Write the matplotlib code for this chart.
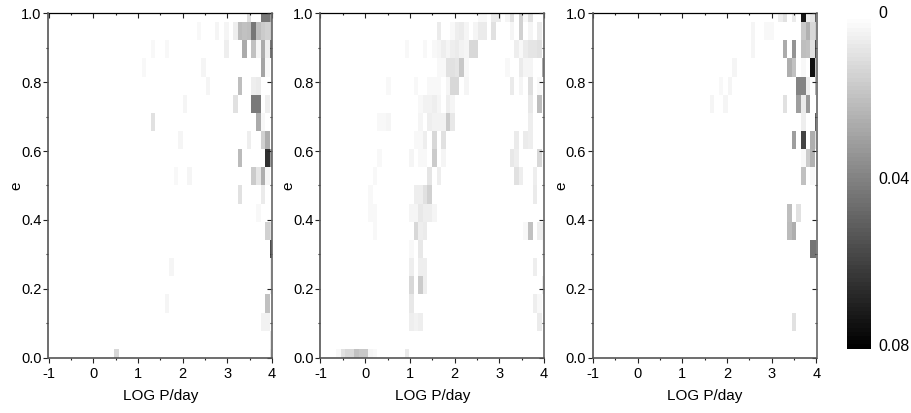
import numpy as np
import matplotlib
matplotlib.use('Agg')
import matplotlib.pyplot as plt
from matplotlib.colors import LinearSegmentedColormap
from matplotlib.ticker import MultipleLocator
from matplotlib.transforms import ScaledTranslation

# grid of the density maps: 20 e bins (top row first), 50 log P bins
n_rows = 20
n_cols = 50

# (e row, log P column, density)
left_cells = [
    (0, 44, .011), (0, 47, .042), (0, 48, .042), (0, 49, .030),
    (1, 33, .002), (1, 37, .003), (1, 39, .003), (1, 41, .005), (1, 42, .022), (1, 43, .019),
    (1, 44, .020), (1, 45, .042), (1, 46, .020), (1, 47, .016), (1, 48, .014), (1, 49, .017),
    (2, 23, .002), (2, 26, .002), (2, 39, .005), (2, 43, .027), (2, 45, .019), (2, 46, .003),
    (2, 47, .027), (2, 48, .005), (2, 49, .042),
    (3, 21, .002), (3, 34, .003), (3, 47, .028), (3, 48, .002),
    (4, 35, .003), (4, 42, .020), (4, 45, .005), (4, 46, .006),
    (5, 30, .003), (5, 41, .009), (5, 45, .041), (5, 46, .041), (5, 48, .005),
    (6, 23, .009), (6, 46, .027), (6, 47, .002),
    (7, 29, .003), (7, 44, .005), (7, 47, .014), (7, 48, .025),
    (8, 42, .022), (8, 48, .064), (8, 49, .030),
    (9, 28, .002), (9, 31, .003), (9, 45, .016), (9, 46, .008), (9, 47, .025), (9, 48, .003),
    (10, 42, .009), (10, 47, .006),
    (11, 46, .002),
    (12, 48, .014), (12, 49, .010),
    (13, 49, .055),
    (14, 27, .003), (14, 49, .005),
    (15, 49, .005),
    (16, 26, .003), (16, 48, .019),
    (17, 47, .004), (17, 48, .004),
    (18, 49, .008),
    (19, 15, .013), (19, 49, .010),
]

middle_cells = [
    (0, 35, .002), (0, 36, .002), (0, 38, .006), (0, 39, .006), (0, 41, .003), (0, 42, .009),
    (0, 44, .014), (0, 45, .002), (0, 46, .009),
    (1, 26, .006), (1, 29, .002), (1, 30, .005), (1, 31, .006), (1, 32, .003), (1, 34, .003),
    (1, 35, .006), (1, 36, .006), (1, 38, .009), (1, 42, .003), (1, 44, .014), (1, 46, .003),
    (1, 48, .006),
    (2, 19, .002), (2, 23, .002), (2, 25, .002), (2, 26, .003), (2, 27, .005), (2, 28, .003),
    (2, 29, .005), (2, 30, .006), (2, 31, .004), (2, 32, .003), (2, 33, .013), (2, 34, .013),
    (2, 43, .005), (2, 44, .002), (2, 45, .006), (2, 46, .008), (2, 47, .008), (2, 48, .009),
    (3, 26, .002), (3, 27, .002), (3, 28, .009), (3, 29, .009), (3, 30, .008), (3, 31, .017),
    (3, 32, .002), (3, 41, .002), (3, 44, .006), (3, 45, .003), (3, 46, .003), (3, 49, .027),
    (4, 15, .002), (4, 21, .002), (4, 24, .002), (4, 25, .002), (4, 26, .002), (4, 28, .003),
    (4, 29, .013), (4, 30, .013), (4, 32, .003), (4, 42, .006), (4, 44, .003), (4, 46, .011),
    (4, 48, .002),
    (5, 22, .002), (5, 23, .004), (5, 24, .004), (5, 25, .005), (5, 26, .003), (5, 28, .005),
    (5, 29, .003), (5, 46, .007), (5, 48, .020),
    (6, 13, .002), (6, 14, .002), (6, 15, .003), (6, 22, .003), (6, 24, .005), (6, 25, .004),
    (6, 26, .004), (6, 27, .004), (6, 28, .016), (6, 29, .007), (6, 46, .005),
    (7, 21, .002), (7, 22, .002), (7, 23, .005), (7, 25, .013), (7, 27, .009), (7, 43, .006),
    (7, 45, .006), (7, 46, .005),
    (8, 13, .002), (8, 20, .003), (8, 22, .002), (8, 23, .002), (8, 25, .016), (8, 27, .003),
    (8, 42, .007), (8, 43, .005), (8, 48, .013),
    (9, 12, .002), (9, 24, .008), (9, 26, .005), (9, 43, .009), (9, 44, .005), (9, 47, .005),
    (10, 11, .002), (10, 21, .005), (10, 22, .005), (10, 23, .009), (10, 24, .014), (10, 47, .006),
    (11, 11, .002), (11, 12, .002), (11, 20, .003), (11, 21, .003), (11, 22, .007), (11, 23, .005),
    (11, 24, .005), (11, 25, .003),
    (12, 12, .002), (12, 21, .013), (12, 22, .005), (12, 23, .006), (12, 45, .002), (12, 46, .019),
    (12, 48, .005), (12, 49, .005),
    (13, 20, .002), (13, 22, .007), (13, 49, .002),
    (14, 20, .005), (14, 22, .005), (14, 23, .005), (14, 47, .005),
    (15, 20, .013), (15, 22, .016), (15, 23, .005), (15, 49, .005),
    (16, 20, .007), (16, 47, .005), (16, 48, .002),
    (17, 20, .005), (17, 21, .004), (17, 22, .005), (17, 48, .006),
    (19, 4, .002), (19, 5, .009), (19, 6, .013), (19, 7, .013), (19, 8, .019), (19, 9, .017),
    (19, 10, .017), (19, 11, .003), (19, 12, .002), (19, 19, .006),
]

right_cells = [
    (0, 41, .005), (0, 42, .009), (0, 44, .006), (0, 46, .072), (0, 47, .005), (0, 48, .008),
    (0, 49, .049),
    (1, 35, .003), (1, 38, .002), (1, 39, .002), (1, 46, .017), (1, 47, .024), (1, 48, .013),
    (1, 49, .017),
    (2, 35, .003), (2, 42, .027), (2, 44, .033), (2, 46, .020), (2, 47, .019), (2, 48, .009),
    (2, 49, .055),
    (3, 31, .003), (3, 43, .025), (3, 44, .019), (3, 46, .002), (3, 48, .074), (3, 49, .020),
    (4, 28, .002), (4, 30, .003), (4, 45, .038), (4, 46, .038), (4, 47, .005), (4, 49, .024),
    (5, 26, .003), (5, 29, .003), (5, 42, .009), (5, 45, .030), (5, 46, .006), (5, 47, .031),
    (6, 46, .005), (6, 49, .049),
    (7, 44, .030), (7, 46, .058), (7, 48, .025), (7, 49, .011),
    (8, 46, .002), (8, 47, .016), (8, 48, .024),
    (9, 46, .019), (9, 48, .002),
    (11, 43, .020), (11, 45, .009),
    (12, 43, .022), (12, 44, .025),
    (13, 48, .044), (13, 49, .044),
    (17, 44, .009),
]

x_ticks = [-1, 0, 1, 2, 3, 4]
y_ticks = [0.0, 0.2, 0.4, 0.6, 0.8, 1.0]
cbar_ticks = [0, 0.04, 0.08]
cbar_labels = ['0', '0.04', '0.08']

plt.rcParams['font.family'] = ['Liberation Sans', 'DejaVu Sans']
plt.rcParams['axes.unicode_minus'] = False

W, H = 912, 413
fig = plt.figure(figsize=(W / 100, H / 100), dpi=100)
cmap = LinearSegmentedColormap.from_list('wb', ['white', 'black'], N=80)


def make_grid(cells):
    grid = np.zeros((n_rows, n_cols))
    for row, col, val in cells:
        grid[row, col] = val
    return grid


def style_ticks(axis, direction):
    axis.set_major_locator(plt.FixedLocator(x_ticks if axis.axis_name == 'x' else y_ticks))
    axis.set_minor_locator(MultipleLocator(0.5 if axis.axis_name == 'x' else 0.1))
    axis.set_tick_params(which='major', length=3.5, width=0.8, color='#222222', direction=direction)
    axis.set_tick_params(which='minor', length=1.5, width=0.8, color='#222222', direction=direction)


dx = 5 / (n_cols - 1)
dy = 1 / (n_rows - 1)
extent = [-1 - dx / 2, 4 + dx / 2, -dy / 2, 1 + dy / 2]

lefts = [48.5, 320.5, 593]
for left, cells in zip(lefts, [left_cells, middle_cells, right_cells]):
    ax = fig.add_axes([left / W, 1 - 357.7 / H, 223.5 / W, 344.4 / H])
    im = ax.imshow(make_grid(cells), cmap=cmap, vmin=0, vmax=0.08, extent=extent,
                   aspect='auto', interpolation='nearest', origin='upper')
    ax.set_xlim(-1, 4)
    ax.set_ylim(0, 1)
    style_ticks(ax.xaxis, 'out')
    style_ticks(ax.yaxis, 'out')
    ax.xaxis.set_major_formatter(plt.FuncFormatter(lambda v, pos: '%d' % v))
    ax.yaxis.set_major_formatter(plt.FuncFormatter(lambda v, pos: '%.1f' % v))
    ax.tick_params(which='major', labelsize=10.5)
    ax.tick_params(axis='x', which='major', pad=3)
    ax.tick_params(axis='y', which='major', pad=1.5)

    # top and right ticks point in
    top = ax.secondary_xaxis('top')
    right = ax.secondary_yaxis('right')
    style_ticks(top.xaxis, 'in')
    style_ticks(right.yaxis, 'in')
    top.xaxis.set_tick_params(which='major', labeltop=False)
    right.yaxis.set_tick_params(which='major', labelright=False)
    top.spines['top'].set(color='black', linewidth=0.9)
    right.spines['right'].set(color='#666666', linewidth=1.2)

    ax.spines['left'].set(color='#555555', linewidth=1.2)
    ax.spines['bottom'].set(color='#555555', linewidth=1.2)
    ax.spines['right'].set_visible(False)
    ax.spines['top'].set_visible(False)
    ax.set_xlabel('LOG P/day', fontsize=11, labelpad=6)
    ax.set_ylabel('e', fontsize=11, labelpad=-2)

cax = fig.add_axes([847 / W, 1 - 348.5 / H, 24 / W, 333.5 / H])
cb = fig.colorbar(im, cax=cax)
cb.ax.invert_yaxis()
cb.set_ticks(cbar_ticks)
cb.set_ticklabels(cbar_labels)
cb.ax.tick_params(length=0, labelsize=11.5, pad=5)
cb.outline.set_visible(False)
shift = ScaledTranslation(0, 2.5 / 72, fig.dpi_scale_trans)
for label in cb.ax.get_yticklabels():
    label.set_transform(label.get_transform() + shift)

fig.savefig('out.png', dpi=100)
